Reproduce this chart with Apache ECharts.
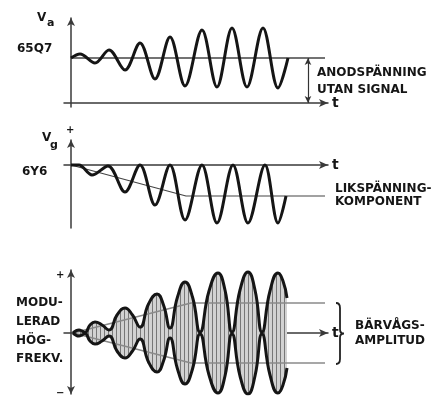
<!DOCTYPE html>
<html><head><meta charset="utf-8">
<script src="https://cdn.jsdelivr.net/npm/echarts@6/dist/echarts.min.js"></script>
<style>html,body{margin:0;padding:0;background:#fff}#c{width:439px;height:396px}</style>
</head><body><div id="c"></div>
<script>
// ---- Panel 1: anode voltage Va (6SQ7), extrema ----
const vaT = [0, 0.9, 2.4, 3.8, 5.4, 6.9, 8.4, 9.9, 11.4, 13.1, 14.6, 16.1, 17.6, 19.2, 20.7, 21.7];
const vaV = [4.5, 4.9, 4.0, 5.3, 3.3, 6.0, 2.4, 6.6, 1.7, 7.3, 1.6, 7.5, 1.6, 7.5, 1.5, 4.5];
const vaRefT = [0, 25.4];
const vaRefV = [4.5, 4.5];
const vaArrowT = 23.7;
const vaArrowV = [4.5, 0];

// ---- Panel 2: grid voltage Vg (6Y6) ----
const vgT = [0, 0.8, 2.1, 3.7, 5.4, 6.9, 8.4, 9.9, 11.4, 13.1, 14.6, 16.2, 17.7, 19.4, 20.7, 21.5];
const vgV = [0, 0, -1.0, -0.1, -2.7, 0, -4.0, 0, -5.5, 0, -5.8, 0, -5.8, 0, -5.8, -3.1];
const dcT = [0, 11.5, 25.4];
const dcV = [0, -3.1, -3.1];

// ---- Panel 3: modulated HF envelope (peaks, waists and flanks) ----
const envT = [0.2, 0.5, 0.8, 1.1, 1.4, 1.9, 2.4, 3.1, 3.8, 4.6, 5.4, 6.15, 6.9, 7.75, 8.6, 9.25, 9.9, 10.65, 11.4, 12.15, 12.9, 13.8, 14.7, 15.4, 16.1, 16.9, 17.7, 18.4, 19.1, 19.9, 20.7, 21.2, 21.6];
const envU = [0, 0.22, 0.3, 0.2, 0.05, 0.8, 1.1, 0.8, 0.3, 1.8, 2.5, 1.8, 0.6, 2.9, 3.9, 2.8, 0.5, 3.6, 5.1, 3.6, 0.1, 4.2, 6.0, 4.3, 0.1, 4.3, 6.1, 4.3, 0.1, 4.2, 6.0, 5.2, 3.5];
const carT = [0.2, 12.0, 25.4];
const carV = [0, 3.0, 3.0];
const braceT = 26.9;

const zip = (a, b) => a.map((x, i) => [x, b[i]]);
const neg = a => a.map(v => -v);

const FONT = '"DejaVu Sans", sans-serif';
const INK = '#151515';
const AX = '#3a3a3a';
const SM = 0.34;
const SM3 = 0.5;

const pat = document.createElement('canvas');
pat.width = 4; pat.height = 4;
const pc = pat.getContext('2d');
pc.fillStyle = '#d2d2d2'; pc.fillRect(0, 0, 4, 4);
pc.fillStyle = '#777777'; pc.fillRect(0, 0, 1, 4);

function xa(i) {
  return {
    type: 'value', gridIndex: i, min: -0.7, max: 25.7,
    axisLine: { onZero: true, symbol: ['none', 'arrow'], symbolSize: [6, 9], lineStyle: { color: AX, width: 1.5 } },
    axisTick: { show: false }, axisLabel: { show: false }, splitLine: { show: false },
    name: 't', nameLocation: 'end', nameGap: 4,
    nameTextStyle: { fontFamily: FONT, fontWeight: 'bold', fontSize: 14, color: INK }
  };
}
function ya(i, min, max, sym) {
  return {
    type: 'value', gridIndex: i, min: min, max: max,
    axisLine: { onZero: true, symbol: sym, symbolSize: [6, 8], lineStyle: { color: AX, width: 1.5 } },
    axisTick: { show: false }, axisLabel: { show: false }, splitLine: { show: false }
  };
}
function line(i, data, color, width, z, extra) {
  return Object.assign({
    type: 'line', xAxisIndex: i, yAxisIndex: i, data: data, showSymbol: false, symbol: 'none',
    lineStyle: { color: color, width: width }, z: z, silent: true
  }, extra || {});
}
function txt(x, y, s, size, extra) {
  return Object.assign({
    type: 'text', x: x, y: y,
    style: { text: s, font: 'bold ' + size + 'px ' + FONT, fill: INK, align: 'left', verticalAlign: 'middle' }
  }, extra || {});
}

const chart = echarts.init(document.getElementById('c'), null, { renderer: 'canvas' });
chart.setOption({
  animation: false,
  backgroundColor: '#ffffff',
  grid: [
    { left: 64, width: 264, top: 18, height: 89 },
    { left: 64, width: 264, top: 140, height: 88 },
    { left: 64, width: 264, top: 270, height: 124 }
  ],
  xAxis: [xa(0), xa(1), xa(2)],
  yAxis: [
    ya(0, -0.4, 8.5, ['none', 'arrow']),
    ya(1, -6.3, 2.5, ['none', 'arrow']),
    ya(2, -6.1, 6.3, ['arrow', 'arrow'])
  ],
  series: [
    line(0, zip(vaRefT, vaRefV), '#444', 1.3, 2),
    line(0, zip(vaT, vaV), INK, 3, 3, {
      smooth: SM,
      markLine: {
        silent: true, symbol: ['arrow', 'arrow'], symbolSize: [5, 7], label: { show: false },
        lineStyle: { color: '#333', width: 1.2, type: 'solid' },
        data: [[{ coord: [vaArrowT, vaArrowV[0]] }, { coord: [vaArrowT, vaArrowV[1]] }]]
      }
    }),
    line(1, zip(dcT, dcV), '#444', 1.2, 2),
    line(1, zip(vgT, vgV), INK, 3, 3, { smooth: SM }),
    // panel 3 hatched carrier fill
    line(2, zip(envT, envU), 'rgba(0,0,0,0)', 0, 1, { smooth: SM3, areaStyle: { color: { image: pat, repeat: 'repeat' }, opacity: 1 } }),
    line(2, zip(envT, neg(envU)), 'rgba(0,0,0,0)', 0, 1, { smooth: SM3, areaStyle: { color: { image: pat, repeat: 'repeat' }, opacity: 1 } }),
    line(2, zip(carT, carV), '#8a8a8a', 1.6, 2),
    line(2, zip(carT, neg(carV)), '#8a8a8a', 1.6, 2),
    line(2, zip(envT, envU), INK, 3, 4, { smooth: SM3 }),
    line(2, zip(envT, neg(envU)), INK, 3, 4, { smooth: SM3 }),
    {
      type: 'custom', xAxisIndex: 2, yAxisIndex: 2, silent: true, clip: false, z: 5,
      data: [[braceT, carV[2], -carV[2] - 0.1]],
      renderItem: function (p, api) {
        const a = api.coord([api.value(0), api.value(1)]);
        const b = api.coord([api.value(0), api.value(2)]);
        const x = a[0], y1 = a[1], y2 = b[1], ym = (y1 + y2) / 2;
        return {
          type: 'path',
          shape: { pathData: 'M' + (x - 4) + ' ' + y1 + ' Q' + x + ' ' + y1 + ' ' + x + ' ' + (y1 + 5) + ' L' + x + ' ' + (ym - 4) + ' Q' + x + ' ' + ym + ' ' + (x + 4) + ' ' + ym + ' Q' + x + ' ' + ym + ' ' + x + ' ' + (ym + 4) + ' L' + x + ' ' + (y2 - 5) + ' Q' + x + ' ' + y2 + ' ' + (x - 4) + ' ' + y2 },
          style: { fill: null, stroke: '#222', lineWidth: 1.8 }
        };
      }
    }
  ],
  graphic: [
    txt(37, 18, 'V', 12),
    txt(47, 23, 'a', 11),
    txt(17, 49, '65Q7', 12),
    txt(317, 73, 'ANODSPÄNNING', 12),
    txt(317, 90, 'UTAN SIGNAL', 12),
    txt(66, 130, '+', 10),
    txt(42, 138, 'V', 12),
    txt(50, 145, 'g', 11),
    txt(22, 172, '6Y6', 12),
    txt(335, 189, 'LIKSPÄNNING-', 12),
    txt(335, 202, 'KOMPONENT', 12),
    txt(56, 275, '+', 10),
    txt(56, 393, '−', 10),
    txt(16, 303, 'MODU-', 12),
    txt(16, 322, 'LERAD', 12),
    txt(16, 341, 'HÖG-', 12),
    txt(16, 359, 'FREKV.', 12),
    txt(355, 326, 'BÄRVÅGS-', 12),
    txt(355, 341, 'AMPLITUD', 12)
  ]
});
</script>
</body></html>
